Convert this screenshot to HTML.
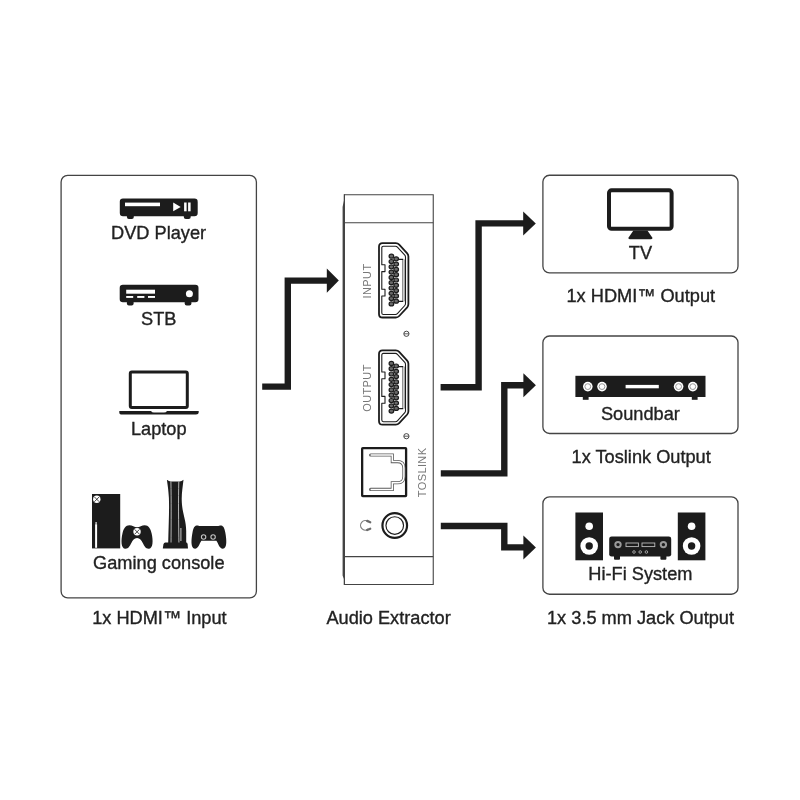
<!DOCTYPE html>
<html lang="en">
<head>
<meta charset="utf-8">
<title>Audio Extractor connection diagram</title>
<style>
html,body{margin:0;padding:0;background:#fff;}
body{width:800px;height:800px;overflow:hidden;font-family:"Liberation Sans",Arial,sans-serif;}
svg{display:block;filter:blur(0.35px);}
svg text{font-family:"Liberation Sans",Arial,sans-serif;}
.lbl{font-size:18.2px;fill:#222;stroke:#222;stroke-width:0.35px;text-anchor:middle;}
.port{font-size:11px;fill:#777;text-anchor:middle;letter-spacing:0.4px;}
.box{fill:#fff;stroke:#444;stroke-width:1.3;}
.k{fill:#1c1c1c;}
.arrow{fill:none;stroke:#1c1c1c;stroke-width:6.4;stroke-linejoin:miter;}
</style>
</head>
<body>
<svg width="800" height="800" viewBox="0 0 800 800">
<rect width="800" height="800" fill="#fff"/>

<!-- ============ LEFT BOX ============ -->
<g id="inputs">
<rect class="box" x="61.1" y="175.35" width="195.3" height="422.55" rx="6.6" ry="6.6"/>

<!-- DVD player -->
<g id="dvd">
<rect class="k" x="126.9" y="213" width="6.9" height="6" rx="2"/>
<rect class="k" x="183.8" y="213" width="6.9" height="6" rx="2"/>
<rect class="k" x="119.8" y="198.5" width="77.9" height="17.8" rx="3.2"/>
<rect fill="#fff" x="125" y="202.6" width="35" height="3.6"/>
<path fill="#fff" d="M173.2 202.5 L180.7 206.9 L173.2 211.3 Z"/>
<rect fill="#fff" x="184.1" y="202.5" width="2.5" height="8.8"/>
<rect fill="#fff" x="188.1" y="202.5" width="2.5" height="8.8"/>
</g>
<text class="lbl" x="158.6" y="238.8">DVD Player</text>

<!-- STB -->
<g id="stb">
<rect class="k" x="126.9" y="299" width="6.7" height="6.6" rx="2"/>
<rect class="k" x="184.7" y="299" width="6.7" height="6.6" rx="2"/>
<rect class="k" x="119.7" y="284.7" width="78.8" height="17.6" rx="3.2"/>
<rect fill="#fff" x="126.2" y="289.7" width="28.8" height="4"/>
<rect fill="#fff" x="126.2" y="296" width="7" height="1.9"/>
<rect fill="#fff" x="137.2" y="296" width="7.2" height="1.9"/>
<rect fill="#fff" x="148" y="296" width="7" height="1.9"/>
<circle fill="#fff" cx="189.4" cy="293.7" r="3.5"/>
</g>
<text class="lbl" x="158.7" y="324.6">STB</text>

<!-- Laptop -->
<g id="laptop">
<rect x="130.3" y="372" width="57" height="35.4" rx="1.5" fill="#fff" stroke="#1c1c1c" stroke-width="3"/>
<path class="k" d="M119.3 411 H151 Q152 412.6 154 412.6 H164 Q166 412.6 167 411 H198.7 V412.4 Q198.7 414.5 196 414.5 H122 Q119.3 414.5 119.3 412.4 Z"/>
</g>
<text class="lbl" x="158.8" y="435">Laptop</text>

<!-- Gaming consoles -->
<g id="xbox">
<rect class="k" x="92" y="494" width="28.2" height="54.4"/>
<circle cx="96.8" cy="499.3" r="3.7" fill="#fff"/>
<path d="M94.3 496.8 L99.3 501.8 M99.3 496.8 L94.3 501.8" stroke="#1c1c1c" stroke-width="0.8" fill="none"/>
<rect fill="#fff" x="95.1" y="524.2" width="2" height="23.6"/>
<circle cx="96.1" cy="523" r="0.9" fill="#ddd"/>
</g>
<g id="xpad" transform="translate(0.35 0)">
<path class="k" d="M129 525.2 C132 525.2 134 527.2 136.7 527.2 C139.4 527.2 141.4 525.2 144.4 525.2 C148 525.2 150.2 528.4 151.3 533.4 C152.8 540 153 548.7 148.2 548.7 C145.2 548.7 144 546 142.4 543 C141 540.2 139.6 538 136.7 538 C133.8 538 132.4 540.2 131 543 C129.4 546 128.2 548.7 125.2 548.7 C120.4 548.7 120.6 540 122.1 533.4 C123.2 528.4 125.4 525.2 129 525.2 Z"/>
<circle cx="136.7" cy="531.8" r="3.7" fill="#fff"/>
<path d="M134.2 529.3 L139.2 534.3 M139.2 529.3 L134.2 534.3" stroke="#1c1c1c" stroke-width="0.8" fill="none"/>
</g>
<g id="ps5">
<path class="k" d="M166.9 479.8 Q169 481.6 170.8 481.6 H179.6 Q181.6 481.6 183.5 479.8 C182.6 488 181.4 494 181.8 502 C182.4 514 186.2 520 186.2 531 V543 H168.2 C168.6 525 169.4 510 168.9 498 C168.5 490 167.6 485 166.9 479.8 Z"/>
<path d="M170.9 481.5 C171.3 500 171.2 520 171 547 M178.8 481.5 C178.3 500 178.5 520 179 547" stroke="#cfcfcf" stroke-width="0.85" fill="none"/>
<path d="M180.9 528 V541" stroke="#bbb" stroke-width="1.1" fill="none"/>
<path class="k" d="M165.4 542.6 H186 Q187.4 542.6 187.6 544 L188 548.5 H162.8 L163.4 544.4 Q163.8 542.6 165.4 542.6 Z"/>
</g>
<g id="pspad">
<path class="k" d="M196.6 525.5 Q198.4 525.1 199.4 526 H218.4 Q219.4 525.1 221.2 525.5 C224 526.2 224.6 529 225.3 532.6 C226.5 539 227.6 548.7 222.8 548.7 C219.4 548.7 218.6 544 216.4 540.8 H201.4 C199.2 544 198.4 548.7 195 548.7 C190.2 548.7 191.3 539 192.5 532.6 C193.2 529 193.8 526.2 196.6 525.5 Z"/>
<circle cx="203.6" cy="537" r="2.2" fill="#1c1c1c" stroke="#c4c4c4" stroke-width="1.1"/>
<circle cx="213.1" cy="537" r="2.2" fill="#1c1c1c" stroke="#c4c4c4" stroke-width="1.1"/>
</g>
<text class="lbl" x="158.8" y="568.6">Gaming console</text>
</g>
<text class="lbl" x="159.4" y="623.6">1x HDMI™ Input</text>

<!-- ============ ARROWS ============ -->
<g id="arrows">
<path class="arrow" d="M262.2 386.6 H287.8 V280.6 H328"/>
<path class="k" d="M326.8 268.4 L338.8 280.6 L326.8 292.8 Z"/>

<path class="arrow" d="M440.6 387.2 H478.6 V223.4 H524"/>
<path class="k" d="M523.2 211.4 L535.8 223.4 L523.2 235.4 Z"/>

<path class="arrow" d="M440.8 473.4 H504.3 V385.2 H524"/>
<path class="k" d="M523.4 373.2 L535.9 385.2 L523.4 397.2 Z"/>

<path class="arrow" d="M440.8 526 H504.3 V547.4 H524"/>
<path class="k" d="M523.4 535.4 L535.9 547.4 L523.4 559.4 Z"/>
</g>

<!-- ============ DEVICE ============ -->
<g id="device">
<path d="M344.4 194.8 H433.25 V584.5 H344.4 Z" fill="#fff" stroke="#444" stroke-width="1.1"/>
<path d="M343.8 222.8 H433.25 M343.8 556.6 H433.25" stroke="#444" stroke-width="1.1" fill="none"/>
<path d="M343.85 194.3 H344.95 V585 H343.85 V579 L342.6 575.6 V207 L343.85 200.6 Z" fill="#444"/>

<!-- HDMI port symbol -->
<defs>
<g id="hdmi">
<path d="M4.4 0.8 H17.6 Q19.6 0.8 21 2.3 L29 11 Q30.2 12.4 30.2 14.2 V61.7 Q30.2 63.5 29 64.9 L21 73.6 Q19.6 75.1 17.6 75.1 H4.4 Q0.8 75.1 0.8 71.5 V4.4 Q0.8 0.8 4.4 0.8 Z" fill="#fff" stroke="#1c1c1c" stroke-width="1.8" stroke-linejoin="round"/>
<path d="M5.2 3.8 H17.2 Q18.4 3.8 19.2 4.7 L26.6 12.8 Q27.3 13.6 27.3 14.8 V61.1 Q27.3 62.3 26.6 63.1 L19.2 71.2 Q18.4 72.1 17.2 72.1 H5.2 Q3.6 72.1 3.6 70.5 V53.6 H6.8 V46.8 H3.6 V29.2 H6.8 V22.4 H3.6 V5.4 Q3.6 3.8 5.2 3.8 Z" fill="#fff" stroke="#1c1c1c" stroke-width="1.1" stroke-linejoin="round"/>
<g fill="#6a6a6a" stroke="#1c1c1c" stroke-width="1.2">
<ellipse cx="13.2" cy="13.8" rx="2.3" ry="2"/>
<ellipse cx="13.2" cy="19.1" rx="2.3" ry="2"/>
<ellipse cx="13.2" cy="24.4" rx="2.3" ry="2"/>
<ellipse cx="13.2" cy="29.7" rx="2.3" ry="2"/>
<ellipse cx="13.2" cy="35" rx="2.3" ry="2"/>
<ellipse cx="13.2" cy="40.3" rx="2.3" ry="2"/>
<ellipse cx="13.2" cy="45.6" rx="2.3" ry="2"/>
<ellipse cx="13.2" cy="50.9" rx="2.3" ry="2"/>
<ellipse cx="13.2" cy="56.2" rx="2.3" ry="2"/>
<ellipse cx="13.2" cy="61.5" rx="2.3" ry="2"/>
<ellipse cx="18" cy="16.4" rx="2.3" ry="2"/>
<ellipse cx="18" cy="21.7" rx="2.3" ry="2"/>
<ellipse cx="18" cy="27" rx="2.3" ry="2"/>
<ellipse cx="18" cy="32.3" rx="2.3" ry="2"/>
<ellipse cx="18" cy="37.6" rx="2.3" ry="2"/>
<ellipse cx="18" cy="42.9" rx="2.3" ry="2"/>
<ellipse cx="18" cy="48.2" rx="2.3" ry="2"/>
<ellipse cx="18" cy="53.5" rx="2.3" ry="2"/>
<ellipse cx="18" cy="58.8" rx="2.3" ry="2"/>
</g>
<path d="M24.4 17 V59 M26 17 V59" stroke="#555" stroke-width="0.7" fill="none"/>
<path d="M20.6 17 H25 M20.6 59 H25" stroke="#1c1c1c" stroke-width="1.4" fill="none"/>
</g>
</defs>
<use href="#hdmi" x="378.2" y="242.4"/>
<use href="#hdmi" x="378.2" y="349.6"/>

<text class="port" transform="translate(371.4 281) rotate(-90)">INPUT</text>
<text class="port" transform="translate(371.4 388) rotate(-90)">OUTPUT</text>
<text class="port" transform="translate(425.6 472.4) rotate(-90)">TOSLINK</text>

<!-- screws -->
<g fill="#fff" stroke="#333" stroke-width="0.9">
<circle cx="406.4" cy="333.8" r="2.6"/>
<circle cx="406.4" cy="436.2" r="2.6"/>
</g>
<path d="M404 333.8 H408.8 M404 436.2 H408.8" stroke="#333" stroke-width="0.8"/>

<!-- Toslink -->
<rect x="362.15" y="448.05" width="43.95" height="48.05" rx="0.6" fill="#fff" stroke="#1c1c1c" stroke-width="2.3"/>
<path d="M370.6 455 H392.3 V461.6 H397.4 Q403.9 461.6 403.9 468 V476.4 Q403.9 482.8 397.4 482.8 H392.3 V489.4 H370.6" fill="none" stroke="#5a5a5a" stroke-width="3.1" stroke-linejoin="miter" stroke-linecap="round"/>
<path d="M370.6 455 H392.3 V461.6 H397.4 Q403.9 461.6 403.9 468 V476.4 Q403.9 482.8 397.4 482.8 H392.3 V489.4 H370.6" fill="none" stroke="#fff" stroke-width="1.5" stroke-linejoin="miter"/>

<!-- 3.5mm jack -->
<circle cx="394.75" cy="525.5" r="12.3" fill="#fff" stroke="#1c1c1c" stroke-width="2.2"/>
<circle cx="394.75" cy="525.5" r="8.8" fill="#fff" stroke="#1c1c1c" stroke-width="1.15"/>
<!-- headphone icon -->
<path d="M368.3 529 A4.7 4.7 0 1 1 368.3 521.8" fill="none" stroke="#808080" stroke-width="1.25"/>
<path d="M367.2 520.9 L370.2 522.2 M367.2 530 L370.2 528.7" stroke="#6a6a6a" stroke-width="2.3" stroke-linecap="round"/>
</g>
<text class="lbl" x="388.6" y="623.6">Audio Extractor</text>

<!-- ============ RIGHT BOXES ============ -->
<g id="outputs">
<rect class="box" x="542.9" y="175.25" width="195.1" height="97.65" rx="6.6" ry="6.6"/>
<rect class="box" x="542.9" y="336" width="195.1" height="97.5" rx="6.6" ry="6.6"/>
<rect class="box" x="542.9" y="496.9" width="195.1" height="97.35" rx="6.6" ry="6.6"/>

<!-- TV -->
<rect x="609" y="190.3" width="62.6" height="38.5" rx="2.6" fill="#fff" stroke="#1c1c1c" stroke-width="4"/>
<path class="k" d="M633.4 230.6 H647.4 L652.4 237.8 Q652.8 239.2 651 239.2 H629.8 Q628 239.2 628.4 237.8 Z"/>
<text class="lbl" x="640.4" y="259">TV</text>
<text class="lbl" x="640.8" y="302.2">1x HDMI™ Output</text>

<!-- Soundbar -->
<g id="soundbar">
<rect class="k" x="582.8" y="395" width="5.8" height="4.8"/>
<rect class="k" x="691.8" y="395" width="5.8" height="4.8"/>
<rect class="k" x="575.4" y="375.8" width="130.1" height="21.2"/>
<g fill="#fff" stroke="#1c1c1c" stroke-width="0">
<circle cx="587.8" cy="386.6" r="4.8"/>
<circle cx="602" cy="386.6" r="4.8"/>
<circle cx="678.6" cy="386.6" r="4.8"/>
<circle cx="692.8" cy="386.6" r="4.8"/>
</g>
<g fill="none" stroke="#999" stroke-width="1">
<circle cx="587.8" cy="386.6" r="2.9"/>
<circle cx="602" cy="386.6" r="2.9"/>
<circle cx="678.6" cy="386.6" r="2.9"/>
<circle cx="692.8" cy="386.6" r="2.9"/>
</g>
<rect fill="#fff" x="625.6" y="384.9" width="33.2" height="3.4"/>
</g>
<text class="lbl" x="640.4" y="419.6">Soundbar</text>
<text class="lbl" x="641.2" y="463">1x Toslink Output</text>

<!-- Hi-Fi -->
<g id="hifi">
<rect class="k" x="575.4" y="512.5" width="27.6" height="47.8"/>
<circle cx="589.2" cy="526.2" r="3.8" fill="#fff"/>
<circle cx="589.2" cy="546" r="8.8" fill="#fff"/>
<circle cx="589.2" cy="546" r="3.7" class="k"/>
<rect class="k" x="677.8" y="512.5" width="27.6" height="47.8"/>
<circle cx="691.6" cy="526.2" r="3.8" fill="#fff"/>
<circle cx="691.6" cy="546" r="8.8" fill="#fff"/>
<circle cx="691.6" cy="546" r="3.7" class="k"/>

<rect class="k" x="614" y="555" width="6" height="4.8" rx="1"/>
<rect class="k" x="660.4" y="555" width="6" height="4.8" rx="1"/>
<rect class="k" x="609.2" y="536.4" width="62" height="20.2" rx="2.4"/>
<circle cx="618" cy="544.6" r="2.7" fill="#1c1c1c" stroke="#9a9a9a" stroke-width="2"/>
<circle cx="663.4" cy="544.6" r="2.7" fill="#1c1c1c" stroke="#9a9a9a" stroke-width="2"/>
<rect x="626" y="543" width="12.4" height="3.6" fill="#1c1c1c" stroke="#bbb" stroke-width="0.9"/>
<rect x="642" y="543" width="12.8" height="3.6" fill="#1c1c1c" stroke="#bbb" stroke-width="0.9"/>
<g fill="#1c1c1c" stroke="#bbb" stroke-width="0.8">
<circle cx="634" cy="552" r="1.3"/>
<circle cx="640.2" cy="552" r="1.3"/>
<circle cx="646.4" cy="552" r="1.3"/>
</g>
</g>
<text class="lbl" x="640.4" y="580.4">Hi-Fi System</text>
<text class="lbl" x="640.5" y="623.6">1x 3.5 mm Jack Output</text>
</g>
</svg>
</body>
</html>
